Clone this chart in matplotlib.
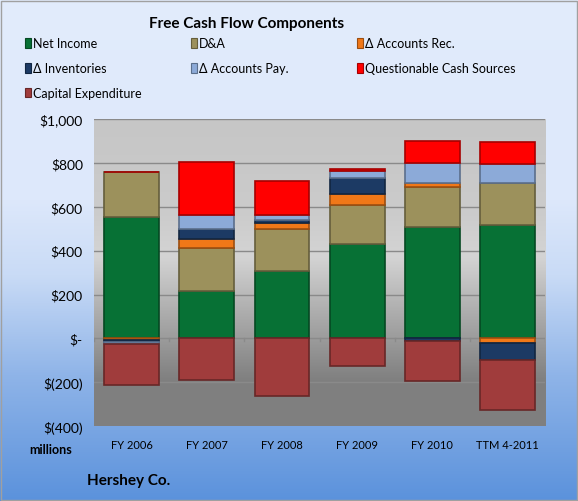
import matplotlib.pyplot as plt
import numpy as np
from matplotlib.patches import Rectangle
from matplotlib.colors import LinearSegmentedColormap

plt.rcParams['font.family'] = ['Lato', 'DejaVu Sans']

# values in $ millions
years = ["FY 2006", "FY 2007", "FY 2008", "FY 2009", "FY 2010", "TTM 4-2011"]
net_income = [553, 215, 308, 432, 507, 518]
dna = [205, 199, 189, 177, 185, 189]
accounts_rec = [-5, 37, 30, 47, 15, -20]
inventories = [-10, 49, 14, 76, -10, -79]
accounts_pay = [-10, 61, 20, 33, 91, 88]
questionable = [2, 245, 156, 8, 100, 99]
capex = [-187, -189, -261, -124, -184, -227]

series = [
    ("Net Income", net_income, "#077135"),
    ("D&A", dna, "#9c915c"),
    ("\u0394 Accounts Rec.", accounts_rec, "#f07818"),
    ("\u0394 Inventories", inventories, "#1c3a64"),
    ("\u0394 Accounts Pay.", accounts_pay, "#8caad8"),
    ("Questionable Cash Sources", questionable, "#ff0000"),
    ("Capital Expenditure", capex, "#a03c3c"),
]

ytick_vals = [1000, 800, 600, 400, 200, 0, -200, -400]
ytick_labels = ["$1,000", "$800", "$600", "$400", "$200", "$-", "$(200)", "$(400)"]

fig = plt.figure(figsize=(5.78, 5.02), dpi=100)

# figure background: light blue fading to a deeper blue
bg = fig.add_axes([0, 0, 1, 1], zorder=-10)
bg_cmap = LinearSegmentedColormap.from_list(
    "bg", [(0, "#5b92dc"), (0.25, "#8fb4e8"), (0.45, "#c9dbf6"), (0.6, "#dde8fb"), (1, "#e2ecfc")])
bg.imshow(np.linspace(0, 1, 256).reshape(-1, 1), aspect="auto", cmap=bg_cmap,
          origin="lower", extent=[0, 1, 0, 1])
bg.add_patch(Rectangle((0.002, 0.002), 0.996, 0.994, fill=False, ec="#a0a0a0", lw=1))
bg.set_xlim(0, 1)
bg.set_ylim(0, 1)
bg.axis("off")

ax = fig.add_axes([0.1626, 0.149, 0.7805, 0.612])
plot_cmap = LinearSegmentedColormap.from_list(
    "plot", [(0, "#7f7f7f"), (0.15, "#808080"), (0.42, "#b8b8b8"), (0.55, "#d4d4d4"), (0.7, "#cbcbcb"), (1, "#c6c6c6")])
ax.imshow(np.linspace(0, 1, 256).reshape(-1, 1), aspect="auto", cmap=plot_cmap,
          origin="lower", extent=[-0.5, 5.5, -400, 1000], zorder=0)

x = np.arange(len(years))
pos_base = np.zeros(len(years))
neg_base = np.zeros(len(years))
for name, vals, color in series:
    vals = np.array(vals, dtype=float)
    base = np.where(vals >= 0, pos_base, neg_base)
    edge = tuple(c * 0.65 for c in plt.matplotlib.colors.to_rgb(color))
    ax.bar(x, vals, bottom=base, width=0.73, color=color, edgecolor=edge,
           linewidth=1.2, zorder=3, label=name)
    pos_base += np.where(vals >= 0, vals, 0)
    neg_base += np.where(vals < 0, vals, 0)

for v in [1000, 800, 600, 400, 200, -200]:
    ax.axhline(v, color="#8a8a8a", lw=1, zorder=1)
ax.axhline(0, color="#8a8a8a", lw=1, zorder=2)
for xv in np.arange(-0.5, 6, 1):
    ax.plot([xv, xv], [0, -12], color="#8a8a8a", lw=1, zorder=2)

ax.set_xlim(-0.5, 5.5)
ax.set_ylim(-400, 1000)
ax.set_yticks(ytick_vals)
ax.set_yticklabels(ytick_labels, fontsize=10)
ax.set_xticks(x)
ax.set_xticklabels(years, fontsize=8)
ax.tick_params(length=0, pad=8)
ax.tick_params(axis="x", pad=9)
for s in ax.spines.values():
    s.set_visible(False)

# title and legend laid out like the spreadsheet chart
fig.text(0.427, 0.952, "Free Cash Flow Components", ha="center", va="center",
         fontsize=11, fontweight="bold")
col_x = [0.043, 0.33, 0.617]
row_y = [0.912, 0.862, 0.813]
for i, (name, vals, color) in enumerate(series):
    cx = col_x[i % 3]
    cy = row_y[i // 3]
    edge = tuple(c * 0.65 for c in plt.matplotlib.colors.to_rgb(color))
    bg.add_patch(Rectangle((cx, cy - 0.009), 0.011, 0.019, fc=color, ec=edge, lw=0.8))
    fig.text(cx + 0.014, cy, name, ha="left", va="center", fontsize=9)

fig.text(0.087, 0.103, "millions", ha="center", va="center", fontsize=9, fontweight="bold")
fig.text(0.151, 0.042, "Hershey Co.", ha="left", va="center", fontsize=11, fontweight="bold")

fig.savefig("out.png", dpi=100)
